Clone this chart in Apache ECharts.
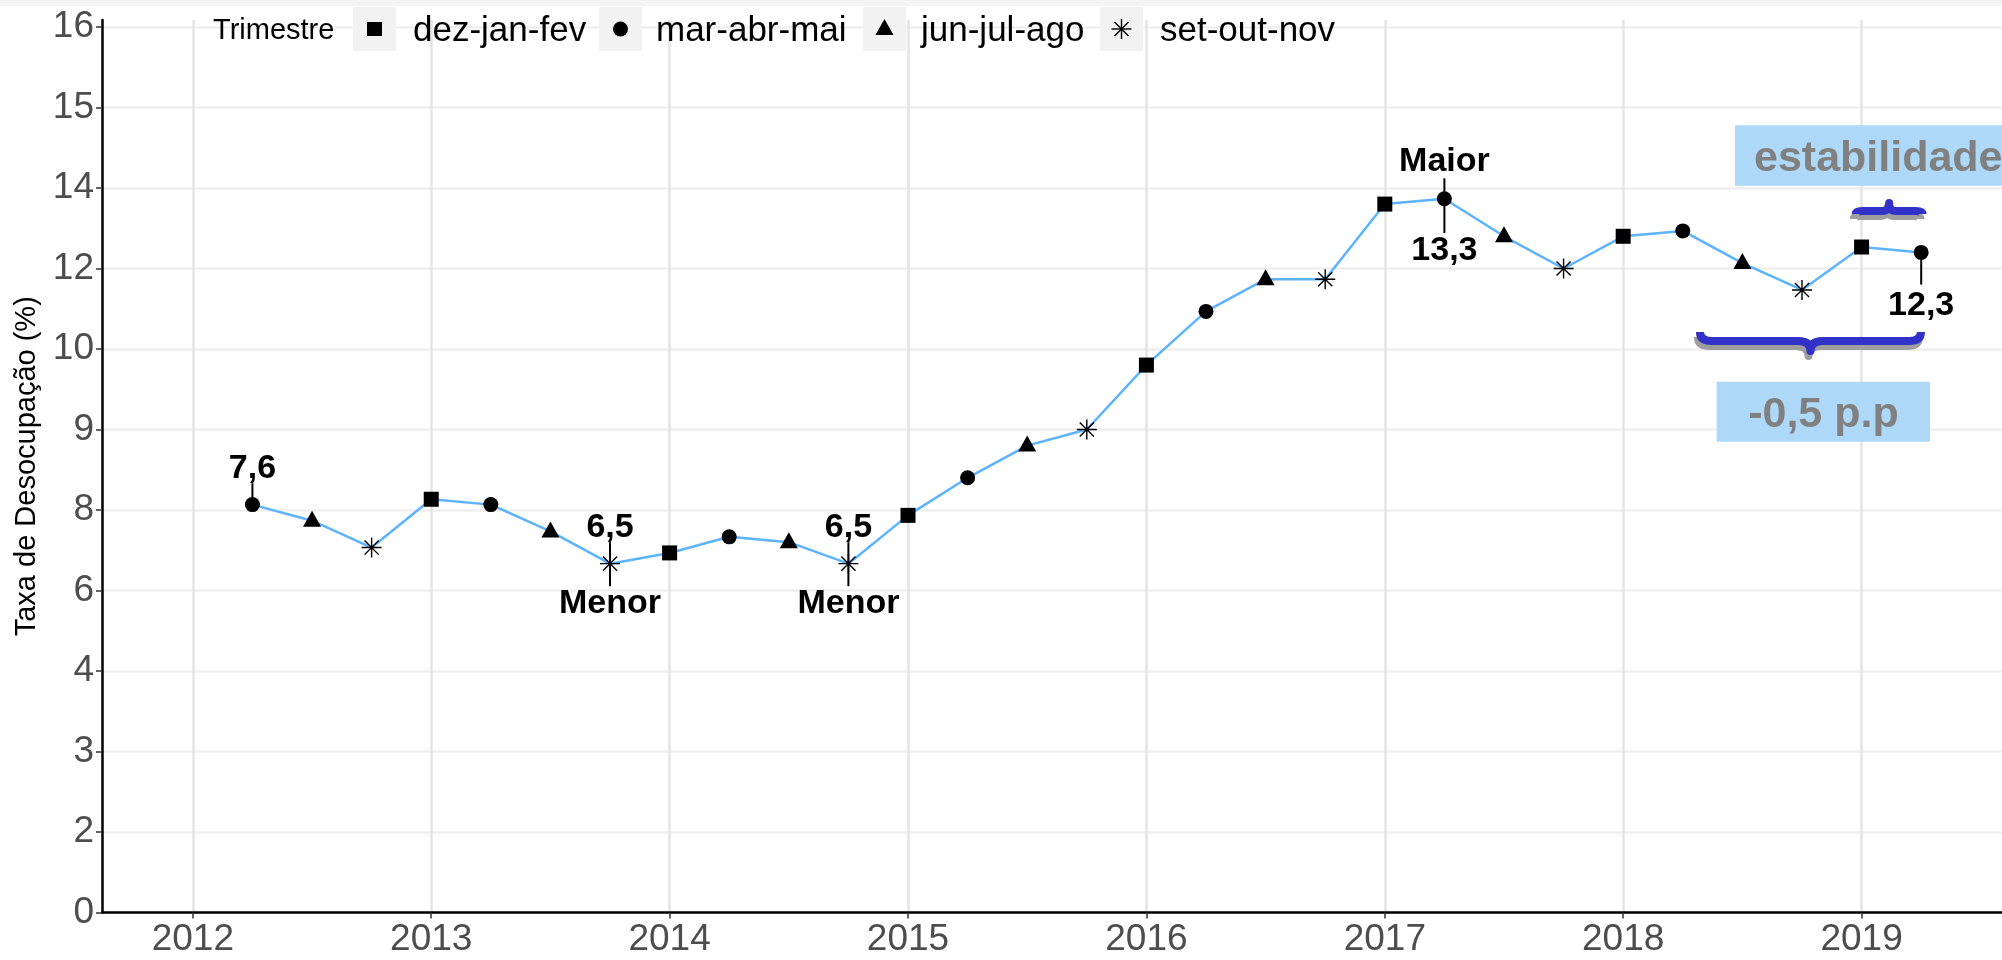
<!DOCTYPE html>
<html><head><meta charset="utf-8">
<script src="https://cdn.jsdelivr.net/npm/echarts@6/dist/echarts.min.js"></script>
<style>html,body{margin:0;padding:0;background:#fff}#chart{width:2002px;height:960px}</style>
</head><body><div id="chart"></div>
<script>
// ---- data ----
const periods = [2012.25, 2012.5, 2012.75, 2013, 2013.25, 2013.5, 2013.75, 2014, 2014.25, 2014.5, 2014.75,
  2015, 2015.25, 2015.5, 2015.75, 2016, 2016.25, 2016.5, 2016.75, 2017, 2017.25, 2017.5, 2017.75,
  2018, 2018.25, 2018.5, 2018.75, 2019, 2019.25];
const rates = [7.6, 7.3, 6.8, 7.7, 7.6, 7.1, 6.5, 6.7, 7.0, 6.9, 6.5,
  7.4, 8.1, 8.7, 9.0, 10.2, 11.2, 11.8, 11.8, 13.2, 13.3, 12.6, 12.0,
  12.6, 12.7, 12.1, 11.6, 12.4, 12.3];
const trimestres = ['mar-abr-mai','jun-jul-ago','set-out-nov','dez-jan-fev','mar-abr-mai','jun-jul-ago','set-out-nov',
  'dez-jan-fev','mar-abr-mai','jun-jul-ago','set-out-nov','dez-jan-fev','mar-abr-mai','jun-jul-ago','set-out-nov',
  'dez-jan-fev','mar-abr-mai','jun-jul-ago','set-out-nov','dez-jan-fev','mar-abr-mai','jun-jul-ago','set-out-nov',
  'dez-jan-fev','mar-abr-mai','jun-jul-ago','set-out-nov','dez-jan-fev','mar-abr-mai'];
const legendNames = ['dez-jan-fev', 'mar-abr-mai', 'jun-jul-ago', 'set-out-nov'];
const xTickValues = [2012, 2013, 2014, 2015, 2016, 2017, 2018, 2019];
const yTickValues = [0, 1.5, 3, 4.5, 6, 7.5, 9, 10.5, 12, 13.5, 15, 16.5];
const yTickLabels = ['0', '2', '3', '4', '6', '8', '9', '10', '12', '14', '15', '16'];

// annotations (data coordinates)
const annotTexts = [
  {x: 2012.25, y: 8.28, text: '7,6'},
  {x: 2013.75, y: 7.18, text: '6,5'},
  {x: 2013.75, y: 5.76, text: 'Menor'},
  {x: 2014.75, y: 7.18, text: '6,5'},
  {x: 2014.75, y: 5.76, text: 'Menor'},
  {x: 2017.25, y: 13.99, text: 'Maior'},
  {x: 2017.25, y: 12.34, text: '13,3'},
  {x: 2019.25, y: 11.3, text: '12,3'}
];
const annotSegments = [
  {x: 2012.25, y0: 7.6, y1: 8.0},
  {x: 2013.75, y0: 6.08, y1: 6.9},
  {x: 2014.75, y0: 6.08, y1: 6.9},
  {x: 2017.25, y0: 12.66, y1: 13.68},
  {x: 2019.25, y0: 11.7, y1: 12.3}
];
const braces = [
  {x0: 2018.322, x1: 2019.249, y: 10.65},
  {x0: 2018.975, x1: 2019.256, y: 13.07}
];
const boxes = [
  {xmin: 2018.469, xmax: 2019.67, ymin: 13.54, ymax: 14.67, tx: 2019.07, ty: 14.04, text: 'estabilidade'},
  {xmin: 2018.392, xmax: 2019.287, ymin: 8.77, ymax: 9.89, tx: 2018.84, ty: 9.27, text: '-0,5 p.p'}
];

// ---- styles ----
const FONT = "'Liberation Sans', Arial, Helvetica, sans-serif";
const braceStyles = [
  {dir: 1, endH: 9, tipH: 10, r: 12},
  {dir: -1, endH: 3, tipH: 8, r: 7}
];
const asteriskPath = 'path://M10,0L10,20M0,10L20,10M2.93,2.93L17.07,17.07M2.93,17.07L17.07,2.93';
const symbolFor = {
  'dez-jan-fev': {symbol: 'rect', size: 15, offset: [0, 0]},
  'mar-abr-mai': {symbol: 'circle', size: 15, offset: [0, 0]},
  'jun-jul-ago': {symbol: 'triangle', size: [18, 16], offset: [0, -2]},
  'set-out-nov': {symbol: asteriskPath, size: 20, offset: [0, 0]}
};

const chart = echarts.init(document.getElementById('chart'), null, {renderer: 'canvas'});

const scatterSeries = legendNames.map(name => {
  const s = symbolFor[name];
  const pts = [];
  periods.forEach((p, i) => { if (trimestres[i] === name) pts.push([p, rates[i]]); });
  const isAst = name === 'set-out-nov';
  return {
    name: name, type: 'scatter', data: pts, z: 4,
    symbol: s.symbol, symbolSize: s.size, symbolOffset: s.offset,
    itemStyle: isAst ? {color: 'rgba(0,0,0,0)', borderColor: '#000', borderWidth: 1.4, opacity: 1}
                     : {color: '#000', opacity: 1},
    emphasis: {disabled: true}, silent: true
  };
});

// legend (drawn as graphic)
const legendKeys = [353, 599, 863, 1100];
const legendTextX = [413, 656, 921, 1160];
const legendGraphic = [
  {type: 'rect', left: 0, top: 0, shape: {width: 2002, height: 6}, style: {fill: '#f4f4f4'}, z: 100},
  {type: 'text', x: 213, y: 31, style: {text: 'Trimestre', fill: '#000', fontSize: 29, fontFamily: FONT, verticalAlign: 'middle'}, z: 100}
];
legendNames.forEach((name, i) => {
  const bx = legendKeys[i], cx = bx + 21.5, cy = 29;
  legendGraphic.push({type: 'rect', x: bx, y: 7, shape: {width: 43, height: 44}, style: {fill: '#f2f2f2'}, z: 100});
  if (name === 'dez-jan-fev') {
    legendGraphic.push({type: 'rect', x: cx - 7.5, y: cy - 7, shape: {width: 15, height: 14}, style: {fill: '#000'}, z: 101});
  } else if (name === 'mar-abr-mai') {
    legendGraphic.push({type: 'circle', shape: {cx: cx, cy: cy, r: 7.5}, style: {fill: '#000'}, z: 101});
  } else if (name === 'jun-jul-ago') {
    legendGraphic.push({type: 'polygon', shape: {points: [[cx, cy - 10], [cx + 9, cy + 6], [cx - 9, cy + 6]]}, style: {fill: '#000'}, z: 101});
  } else {
    const h = 10, d = 7;
    [[0, -h, 0, h], [-h, 0, h, 0], [-d, -d, d, d], [-d, d, d, -d]].forEach(l => {
      legendGraphic.push({type: 'line', shape: {x1: cx + l[0], y1: cy + l[1], x2: cx + l[2], y2: cy + l[3]}, style: {stroke: '#000', lineWidth: 1.4}, z: 101});
    });
  }
  legendGraphic.push({type: 'text', x: legendTextX[i], y: 31, style: {text: name, fill: '#000', fontSize: 35, fontFamily: FONT, verticalAlign: 'middle'}, z: 100});
});

const option = {
  animation: false,
  backgroundColor: '#ffffff',
  grid: {left: 102, right: 0, top: 20, bottom: 47.5, containLabel: false, outerBoundsMode: 'none'},
  xAxis: {
    type: 'value', min: 2011.619, max: 2019.589,
    axisLine: {show: true, onZero: false, lineStyle: {color: '#000', width: 2.5}},
    axisTick: {show: true, customValues: xTickValues, length: 6, lineStyle: {color: '#333', width: 1.5}},
    axisLabel: {customValues: xTickValues, formatter: v => String(Math.round(v)), fontSize: 37, color: '#4d4d4d', fontFamily: FONT, margin: 9},
    splitLine: {show: true, lineStyle: {color: '#e4e4e4', width: 2.5}}
  },
  yAxis: {
    type: 'value', min: 0, max: 16.63,
    name: 'Taxa de Desocupação (%)', nameLocation: 'middle', nameGap: 57,
    nameTextStyle: {fontSize: 29, color: '#000', fontFamily: FONT},
    axisLine: {show: true, onZero: false, lineStyle: {color: '#000', width: 2.5}},
    axisTick: {show: true, customValues: yTickValues, length: 6, lineStyle: {color: '#333', width: 1.5}},
    axisLabel: {customValues: yTickValues, fontSize: 37, color: '#4d4d4d', fontFamily: FONT, margin: 8,
      formatter: v => { const k = yTickValues.findIndex(t => Math.abs(t - v) < 1e-6); return k >= 0 ? yTickLabels[k] : ''; }},
    splitLine: {show: true, lineStyle: {color: '#efefef', width: 2.5}}
  },
  graphic: legendGraphic,
  series: [
    {
      name: 'linha', type: 'line', data: periods.map((p, i) => [p, rates[i]]), showSymbol: false, z: 3,
      lineStyle: {color: '#5cb3ff', width: 2.5}, itemStyle: {color: '#5cb3ff'}, silent: true
    },
    ...scatterSeries,
    {
      name: 'segmentos', type: 'custom', z: 5, silent: true,
      data: annotSegments.map(s => [s.x, s.y0, s.y1]),
      encode: {x: 0, y: [1, 2]},
      renderItem: (params, api) => {
        const s = annotSegments[params.dataIndex];
        const a = api.coord([s.x, s.y0]), b = api.coord([s.x, s.y1]);
        return {type: 'line', shape: {x1: a[0], y1: a[1], x2: b[0], y2: b[1]}, style: {stroke: '#000', lineWidth: 2}};
      }
    },
    {
      name: 'rotulos', type: 'custom', z: 6, silent: true,
      data: annotTexts.map(t => [t.x, t.y]),
      encode: {x: 0, y: 1},
      renderItem: (params, api) => {
        const t = annotTexts[params.dataIndex];
        const p = api.coord([t.x, t.y]);
        return {type: 'text', x: p[0], y: p[1], style: {text: t.text, fill: '#000', fontSize: 34, fontWeight: 'bold', fontFamily: FONT, align: 'center', verticalAlign: 'middle'}};
      }
    },
    {
      name: 'caixas', type: 'custom', z: 6, silent: true, clip: false,
      data: boxes.map(b => [b.tx, b.ty]),
      encode: {x: 0, y: 1},
      renderItem: (params, api) => {
        const b = boxes[params.dataIndex];
        const p0 = api.coord([b.xmin, b.ymax]), p1 = api.coord([b.xmax, b.ymin]);
        const t = api.coord([b.tx, b.ty]);
        return {type: 'group', children: [
          {type: 'rect', shape: {x: p0[0], y: p0[1], width: p1[0] - p0[0], height: p1[1] - p0[1]}, style: {fill: '#add8f8'}},
          {type: 'text', x: t[0], y: t[1], style: {text: b.text, fill: '#808080', fontSize: 43, fontWeight: 'bold', fontFamily: FONT, align: 'center', verticalAlign: 'middle'}}
        ]};
      }
    },
    {
      name: 'chaves', type: 'custom', z: 6, silent: true, clip: false,
      data: braces.map(b => [b.x0, b.y]),
      encode: {x: 0, y: 1},
      renderItem: (params, api) => {
        const b = braces[params.dataIndex], st = braceStyles[params.dataIndex];
        const p0 = api.coord([b.x0, b.y]), p1 = api.coord([b.x1, b.y]);
        const x0 = p0[0], x1 = p1[0], yb = p0[1], xm = (x0 + x1) / 2, r = st.r;
        const ye = yb - st.dir * st.endH, yt = yb + st.dir * st.tipH;
        const d = `M${x0},${ye}Q${x0},${yb} ${x0 + r},${yb}L${xm - r},${yb}Q${xm},${yb} ${xm},${yt}Q${xm},${yb} ${xm + r},${yb}L${x1 - r},${yb}Q${x1},${yb} ${x1},${ye}`;
        return {type: 'group', children: [
          {type: 'path', x: -2, y: 5, shape: {pathData: d}, style: {fill: 'none', stroke: '#9e9e9e', lineWidth: 8, lineJoin: 'round'}},
          {type: 'path', shape: {pathData: d}, style: {fill: 'none', stroke: '#3232c8', lineWidth: 8, lineJoin: 'round'}}
        ]};
      }
    }
  ]
};
chart.setOption(option);
</script>
</body></html>
